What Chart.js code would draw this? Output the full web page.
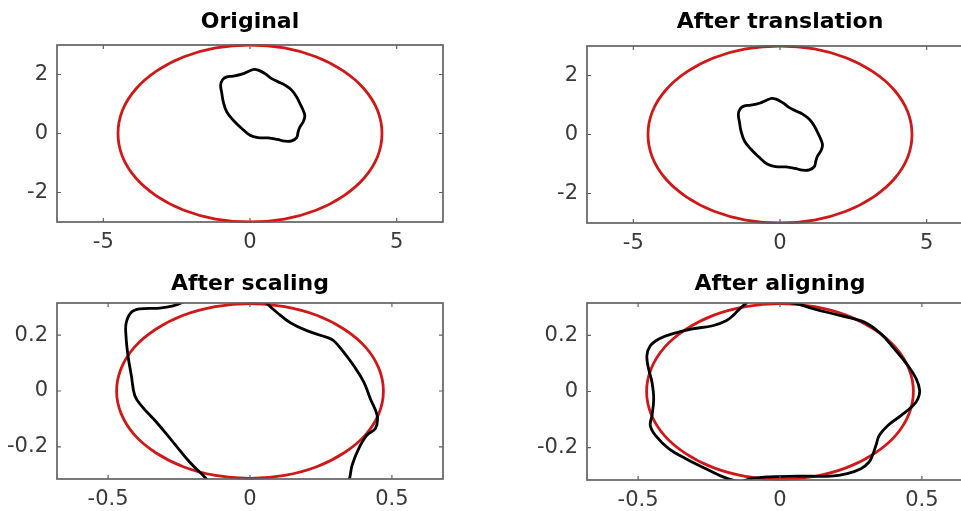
<!DOCTYPE html>
<html>
<head>
<meta charset="utf-8">
<title>Shape alignment</title>
<script src="https://cdn.jsdelivr.net/npm/chart.js@4.4.0/dist/chart.umd.min.js"></script>
<style>
  html, body { margin: 0; padding: 0; background: #fff; }
  body { width: 961px; height: 511px; overflow: hidden; position: relative; }
  canvas { position: absolute; }
</style>
</head>
<body>
<canvas id="c1" width="480" height="258" style="left:0;top:0"></canvas>
<canvas id="c2" width="531" height="258" style="left:480px;top:0"></canvas>
<canvas id="c3" width="480" height="253" style="left:0;top:258px"></canvas>
<canvas id="c4" width="531" height="253" style="left:480px;top:258px"></canvas>
<script>
'use strict';

// titles and ticks
var titles = ['Original', 'After translation', 'After scaling', 'After aligning'];
var bigXTicks = [-5, 0, 5];
var bigYTicks = [-2, 0, 2];
var smallXTicks = [-0.5, 0, 0.5];
var smallYTicks = [-0.2, 0, 0.2];

// red target ellipse
var bigEllipse = [
    [4.5, 0], [4.35, 0.78], [3.9, 1.5], [3.18, 2.12], [2.25, 2.6], [1.17, 2.9],
    [0, 3], [-1.17, 2.9], [-2.25, 2.6], [-3.18, 2.12], [-3.9, 1.5], [-4.35, 0.78],
    [-4.5, 0], [-4.35, -0.78], [-3.9, -1.5], [-3.18, -2.12], [-2.25, -2.6], [-1.17, -2.9],
    [0, -3], [1.17, -2.9], [2.25, -2.6], [3.18, -2.12], [3.9, -1.5], [4.35, -0.78]
];
var smallEllipse = [
    [0.47, 0], [0.454, 0.081], [0.407, 0.157], [0.332, 0.221], [0.235, 0.271], [0.122, 0.302],
    [0, 0.313], [-0.122, 0.302], [-0.235, 0.271], [-0.332, 0.221], [-0.407, 0.157], [-0.454, 0.081],
    [-0.47, 0], [-0.454, -0.081], [-0.407, -0.157], [-0.332, -0.221], [-0.235, -0.271], [-0.122, -0.302],
    [0, -0.313], [0.122, -0.302], [0.235, -0.271], [0.332, -0.221], [0.407, -0.157], [0.454, -0.081]
];

// black shape in each step
var originalShape = [
    [0.11, 2.17], [-0.28, 2.01], [-0.62, 1.94], [-0.79, 1.92], [-0.93, 1.83], [-1.0, 1.64],
    [-0.96, 1.36], [-0.91, 1.07], [-0.79, 0.73], [-0.57, 0.45], [-0.28, 0.17], [0, -0.06],
    [0.28, -0.14], [0.62, -0.15], [0.93, -0.2], [1.19, -0.26], [1.42, -0.25], [1.59, -0.14],
    [1.64, 0.05], [1.7, 0.22], [1.81, 0.39], [1.87, 0.59], [1.81, 0.79], [1.7, 1.02],
    [1.59, 1.24], [1.42, 1.47], [1.19, 1.64], [0.96, 1.75], [0.74, 1.86], [0.51, 2.03], [0.28, 2.15]
];
var translatedShape = [
    [-0.31, 1.22], [-0.7, 1.06], [-1.04, 0.99], [-1.21, 0.97], [-1.35, 0.88], [-1.42, 0.69],
    [-1.38, 0.41], [-1.33, 0.12], [-1.21, -0.22], [-0.99, -0.5], [-0.7, -0.78], [-0.42, -1.01],
    [-0.14, -1.09], [0.2, -1.1], [0.51, -1.15], [0.77, -1.21], [1.0, -1.2], [1.17, -1.09],
    [1.22, -0.9], [1.28, -0.73], [1.39, -0.56], [1.45, -0.36], [1.39, -0.16], [1.28, 0.07],
    [1.17, 0.29], [1.0, 0.52], [0.77, 0.69], [0.54, 0.8], [0.32, 0.91], [0.09, 1.08], [-0.14, 1.2]
];
var scaledShape = [
    [-0.096, 0.378], [-0.2, 0.34], [-0.237, 0.318], [-0.271, 0.305], [-0.318, 0.297], [-0.389, 0.294],
    [-0.418, 0.282], [-0.436, 0.245], [-0.437, 0.198], [-0.43, 0.127], [-0.418, 0.055], [-0.406, -0.016],
    [-0.383, -0.052], [-0.33, -0.111], [-0.271, -0.183], [-0.212, -0.255], [-0.165, -0.302], [-0.13, -0.335],
    [-0.043, -0.345], [0.062, -0.35], [0.158, -0.36], [0.239, -0.375], [0.31, -0.37], [0.345, -0.33],
    [0.36, -0.265], [0.383, -0.206], [0.412, -0.158], [0.442, -0.134], [0.448, -0.088], [0.424, -0.028],
    [0.401, 0.032], [0.365, 0.091], [0.33, 0.139], [0.295, 0.18], [0.271, 0.192], [0.2, 0.216],
    [0.141, 0.245], [0.094, 0.282], [0.053, 0.318], [0.028, 0.335], [-0.043, 0.372]
];
var alignedShape = [
    [-0.1, 0.325], [-0.142, 0.294], [-0.166, 0.27], [-0.19, 0.252], [-0.237, 0.234], [-0.309, 0.223],
    [-0.38, 0.205], [-0.427, 0.187], [-0.457, 0.163], [-0.469, 0.128], [-0.463, 0.081], [-0.451, 0.033],
    [-0.445, -0.026], [-0.451, -0.085], [-0.457, -0.121], [-0.439, -0.156], [-0.391, -0.204], [-0.332, -0.239],
    [-0.261, -0.275], [-0.214, -0.298], [-0.184, -0.31], [-0.142, -0.32], [-0.101, -0.31], [-0.036, -0.304],
    [0.059, -0.301], [0.178, -0.301], [0.237, -0.292], [0.285, -0.275], [0.314, -0.251], [0.326, -0.227],
    [0.338, -0.192], [0.35, -0.156], [0.38, -0.121], [0.427, -0.085], [0.469, -0.05], [0.486, -0.026],
    [0.492, 0.004], [0.48, 0.045], [0.451, 0.092], [0.403, 0.152], [0.356, 0.205], [0.297, 0.247],
    [0.214, 0.27], [0.119, 0.294], [0.059, 0.312], [0, 0.32], [-0.059, 0.32]
];

var RED = '#d01818';
var TICK_FONT = { family: 'DejaVu Sans', size: 21 };

// MATLAB style box with inward ticks
var matlabBox = {
    id: 'matlabBox',
    afterDatasetsDraw: function(chart) {
        var ctx = chart.ctx, a = chart.chartArea;
        var xs = chart.scales.x, ys = chart.scales.y;
        ctx.save();
        ctx.strokeStyle = '#626262';
        ctx.lineWidth = 1.7;
        ctx.strokeRect(a.left, a.top, a.right - a.left, a.bottom - a.top);
        ctx.lineWidth = 1.2;
        ctx.beginPath();
        xs.ticks.forEach(function(t) {
            var px = xs.getPixelForValue(t.value);
            ctx.moveTo(px, a.bottom); ctx.lineTo(px, a.bottom - 4);
            ctx.moveTo(px, a.top); ctx.lineTo(px, a.top + 4);
        });
        ys.ticks.forEach(function(t) {
            var py = ys.getPixelForValue(t.value);
            ctx.moveTo(a.left, py); ctx.lineTo(a.left + 4, py);
            ctx.moveTo(a.right, py); ctx.lineTo(a.right - 4, py);
        });
        ctx.stroke();
        ctx.restore();
    }
};

// wrap the loop: last point in front, first two at the end, and hide the two
// extra end segments so every visible piece gets smooth neighbours
var loopPoints = function(pairs) {
    var pts = pairs.map(function(p) { return { x: p[0], y: p[1] }; });
    return [pts[pts.length - 1]].concat(pts, [pts[0], pts[1]]);
};

var loopDataset = function(pairs, color, width, clip) {
    var pts = loopPoints(pairs);
    var lastSeg = pts.length - 2;
    return {
        data: pts,
        showLine: true,
        borderColor: color,
        borderWidth: width,
        tension: 0.4,
        pointRadius: 0,
        clip: clip,
        segment: {
            borderColor: function(ctx) {
                if (ctx.p0DataIndex === 0 || ctx.p0DataIndex === lastSeg) {
                    return 'rgba(0,0,0,0)';
                }
                return undefined;
            }
        }
    };
};

function makePanel(id, p) {
    new Chart(document.getElementById(id), {
        type: 'scatter',
        data: {
            datasets: [
                loopDataset(p.shape, '#000', 2.8, 0),
                loopDataset(p.ellipse, RED, 2.8, 1)
            ]
        },
        options: {
            responsive: false,
            animation: false,
            devicePixelRatio: 1,
            events: [],
            elements: { line: { capBezierPoints: false } },
            layout: { padding: { left: 0, right: p.padRight, top: 0, bottom: 0 } },
            plugins: {
                legend: { display: false },
                tooltip: { enabled: false },
                title: {
                    display: true,
                    text: p.title,
                    fullSize: false,
                    color: '#000',
                    font: { family: 'DejaVu Sans', size: 22, weight: 'bold', lineHeight: '22px' },
                    padding: { top: p.titleTop, bottom: p.titleBottom }
                }
            },
            scales: {
                x: {
                    type: 'linear',
                    min: -p.xLim, max: p.xLim,
                    grid: { display: false, drawTicks: false },
                    border: { display: false },
                    ticks: {
                        color: '#3a3a3a', font: TICK_FONT, padding: 8, maxRotation: 0, autoSkip: false,
                        callback: function(v) { return String(v); }
                    },
                    afterBuildTicks: function(s) {
                        s.ticks = p.xTicks.map(function(v) { return { value: v }; });
                    },
                    afterFit: function(s) { s.height = p.xAxisH; }
                },
                y: {
                    type: 'linear',
                    min: -p.yLim, max: p.yLim,
                    grid: { display: false, drawTicks: false },
                    border: { display: false },
                    ticks: {
                        color: '#3a3a3a', font: TICK_FONT, padding: 9, autoSkip: false,
                        callback: function(v) { return String(v); }
                    },
                    afterBuildTicks: function(s) {
                        s.ticks = p.yTicks.map(function(v) { return { value: v }; });
                    },
                    afterFit: function(s) { s.width = p.yAxisW; }
                }
            }
        },
        plugins: [matlabBox]
    });
}

makePanel('c1', {
    title: titles[0], shape: originalShape, ellipse: bigEllipse,
    xLim: 6.58, yLim: 3, xTicks: bigXTicks, yTicks: bigYTicks,
    yAxisW: 57, padRight: 37, xAxisH: 36, titleTop: 11, titleBottom: 12
});
makePanel('c2', {
    title: titles[1], shape: translatedShape, ellipse: bigEllipse,
    xLim: 6.58, yLim: 3, xTicks: bigXTicks, yTicks: bigYTicks,
    yAxisW: 107, padRight: 38, xAxisH: 35, titleTop: 11, titleBottom: 13
});
makePanel('c3', {
    title: titles[2], shape: scaledShape, ellipse: smallEllipse,
    xLim: 0.68, yLim: 0.315, xTicks: smallXTicks, yTicks: smallYTicks,
    yAxisW: 57, padRight: 37, xAxisH: 32, titleTop: 15, titleBottom: 8
});
makePanel('c4', {
    title: titles[3], shape: alignedShape, ellipse: smallEllipse,
    xLim: 0.68, yLim: 0.315, xTicks: smallXTicks, yTicks: smallYTicks,
    yAxisW: 107, padRight: 38, xAxisH: 31, titleTop: 15, titleBottom: 8
});
</script>
</body>
</html>
